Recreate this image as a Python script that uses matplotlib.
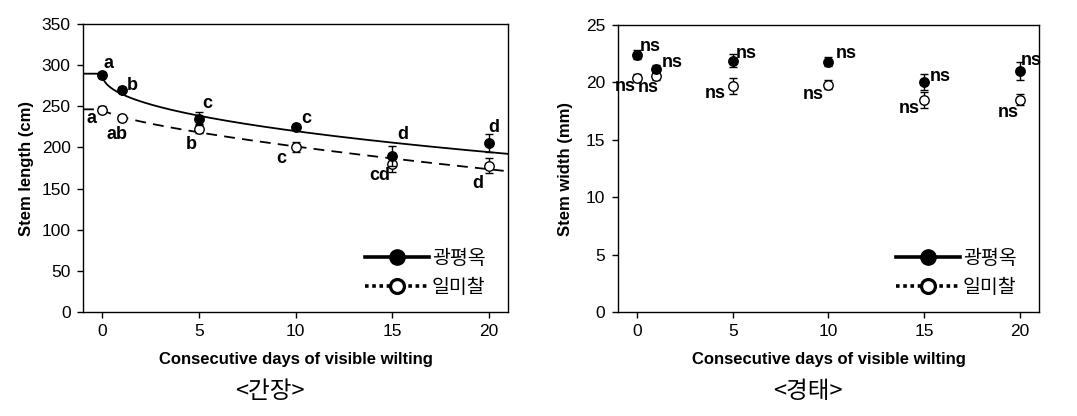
import numpy as np
import matplotlib
matplotlib.use("Agg")
import matplotlib.pyplot as plt
from matplotlib.lines import Line2D

plt.rcParams['font.family'] = ['Liberation Sans', 'DejaVu Sans']

days = [0, 1, 5, 10, 15, 20]
names = ['광평옥', '일미찰']

# stem length (cm)
len_a = [288, 270, 235, 225, 190, 205]
len_a_err = [4, 3, 8, 4, 12, 11]
len_b = [246, 236, 223, 200, 180, 178]
len_b_err = [4, 4, 5, 6, 10, 9]
len_a_lab = ['a', 'b', 'c', 'c', 'd', 'd']
len_b_lab = ['a', 'ab', 'b', 'c', 'cd', 'd']

# stem width (mm)
wid_a = [22.4, 21.2, 21.9, 21.8, 20.0, 21.0]
wid_a_err = [0.4, 0.3, 0.6, 0.4, 0.7, 0.8]
wid_b = [20.4, 20.6, 19.7, 19.8, 18.5, 18.5]
wid_b_err = [0.3, 0.4, 0.7, 0.4, 0.7, 0.5]
wid_a_lab = ['ns'] * 6
wid_b_lab = ['ns'] * 6

# label offsets in pixels (style only)
off_len_a = [(6, 12), (11, 4), (8, 15), (11, 8), (11, 21), (5, 16)]
off_len_b = [(-11, -9), (-5, -17), (-8, -16), (-14, -11), (-12, -12), (-11, -18)]
off_wid_a = [(13, 8), (16, 6), (13, 7), (18, 8), (16, 6), (11, 10)]
off_wid_b = [(-12, -9), (-8, -12), (-18, -8), (-15, -10), (-15, -9), (-12, -13)]


def power_fit(x, y):
    # y = a + b * x^p, p picked by grid search
    x = np.asarray(x, float)
    y = np.asarray(y, float)
    best = None
    for p in np.linspace(0.2, 1.5, 131):
        A = np.column_stack([np.ones_like(x), x ** p])
        coef, res, _, _ = np.linalg.lstsq(A, y, rcond=None)
        r = np.sum((A @ coef - y) ** 2)
        if best is None or r < best[0]:
            best = (r, coef, p)
    _, (a, b), p = best
    return lambda t: a + b * np.clip(t, 0, None) ** p


def draw(ax, ya, ea, yb, eb, la, lb, oa, ob, fit):
    if fit:
        xs = np.linspace(-1, 21, 300)
        ax.plot(xs, power_fit(days, ya)(xs), color='black', lw=1.3, zorder=2)
        ax.plot(xs, power_fit(days, yb)(xs), color='black', lw=1.3,
                dashes=(6, 4), zorder=2)
    ax.errorbar(days, yb, yerr=eb, fmt='o', ms=6.8, mfc='white', mec='black',
                mew=1.0, ecolor='black', elinewidth=1.0, capsize=3, zorder=3)
    ax.errorbar(days, ya, yerr=ea, fmt='o', ms=6.8, mfc='black', mec='black',
                ecolor='black', elinewidth=1.0, capsize=3, zorder=4)
    for x, y, t, o in zip(days, ya, la, oa):
        ax.annotate(t, (x, y), xytext=o, textcoords='offset pixels',
                    ha='center', va='center', fontsize=13, fontweight='bold')
    for x, y, t, o in zip(days, yb, lb, ob):
        ax.annotate(t, (x, y), xytext=o, textcoords='offset pixels',
                    ha='center', va='center', fontsize=13, fontweight='bold')
    ax.set_xlim(-1, 21)
    ax.set_xticks([0, 5, 10, 15, 20])
    ax.tick_params(direction='out', length=4, width=1, labelsize=12.5,
                   top=False, right=False, pad=5)
    for s in ax.spines.values():
        s.set_linewidth(1.0)
    ax.set_xlabel('Consecutive days of visible wilting', fontsize=12,
                  fontweight='bold', labelpad=9)
    handles = [
        Line2D([], [], color='black', lw=2.6, marker='o', ms=11,
               mfc='black', mec='black'),
        Line2D([], [], color='black', lw=2.6, ls=(0, (1, 1)), marker='o', ms=10,
               mfc='white', mec='black', mew=2.3),
    ]
    ax.legend(handles, names, loc='lower right', bbox_to_anchor=(0.97, 0.015),
              borderpad=0, frameon=False, handlelength=3.3, handletextpad=0.15,
              labelspacing=0.4, prop={'family': ['Noto Sans CJK KR'], 'size': 14})


fig = plt.figure(figsize=(10.77, 4.16), dpi=100)
ax1 = fig.add_axes([0.0771, 0.25, 0.3946, 0.6923])
ax2 = fig.add_axes([0.5738, 0.25, 0.3909, 0.6899])

draw(ax1, len_a, len_a_err, len_b, len_b_err, len_a_lab, len_b_lab,
     off_len_a, off_len_b, True)
ax1.set_ylim(0, 350)
ax1.set_yticks(range(0, 351, 50))
ax1.set_ylabel('Stem length (cm)', fontsize=12, fontweight='bold', labelpad=5)

draw(ax2, wid_a, wid_a_err, wid_b, wid_b_err, wid_a_lab, wid_b_lab,
     off_wid_a, off_wid_b, False)
ax2.set_ylim(0, 25)
ax2.set_yticks(range(0, 26, 5))
ax2.set_ylabel('Stem width (mm)', fontsize=12, fontweight='bold', labelpad=9)

fig.text(270 / 1077, 1 - 392 / 416, '<간장>', ha='center', va='center',
         fontsize=17, family=['Noto Sans CJK KR'])
fig.text(808 / 1077, 1 - 392 / 416, '<경태>', ha='center', va='center',
         fontsize=17, family=['Noto Sans CJK KR'])

fig.savefig('out.png', dpi=100)
